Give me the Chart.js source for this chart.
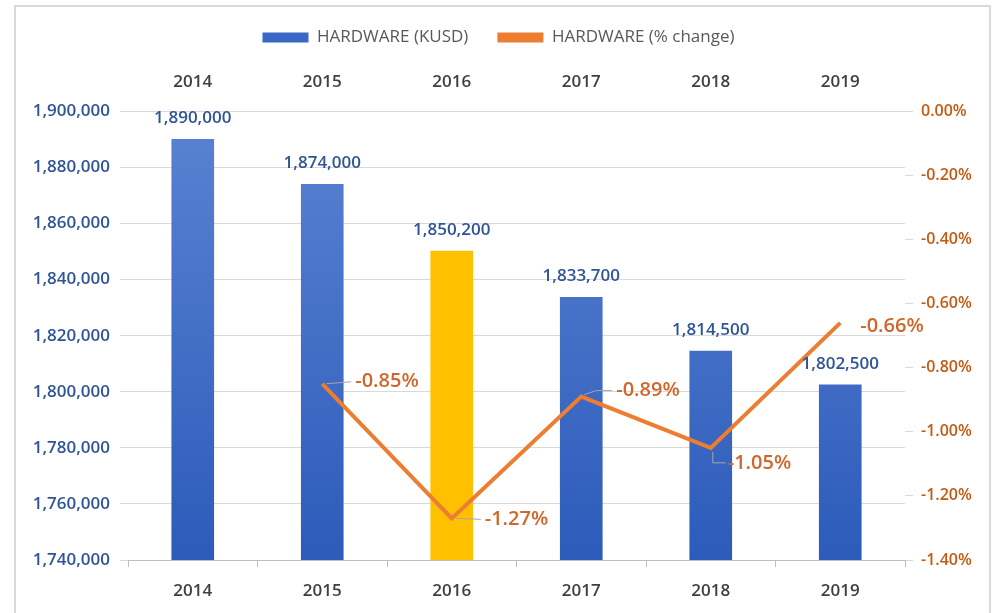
<!DOCTYPE html>
<html>
<head>
<meta charset="utf-8">
<script src="https://cdn.jsdelivr.net/npm/chart.js@4"></script>
<style>
    html, body { margin: 0; padding: 0; background: #ffffff; }
    #wrap { width: 999px; height: 613px; position: relative; }
</style>
</head>
<body>
<div id="wrap"><canvas id="hardwareChart" width="999" height="613"></canvas></div>
<script>
const years = ['2014', '2015', '2016', '2017', '2018', '2019'];
const hardwareKusd = [1890000, 1874000, 1850200, 1833700, 1814500, 1802500];
const hardwareChange = [null, -0.85, -1.27, -0.89, -1.05, -0.66];
const highlightYear = '2016';

const leftTicks = [1740000, 1900000, 20000];
const rightTicks = [-1.4, 0, 0.2];

// where each % label sits relative to its point: [dx, dy, leader?]
const pctLabelOffsets = {
    '2015': [33, -2, 'h'],
    '2016': [33, 1, 'h'],
    '2017': [35, -6, 'up'],
    '2018': [17, 15, 'down'],
    '2019': [20, 3, null]
};

const blue = '#2f5597';
const orange = '#c55a11';

function barFill(context) {
    const chart = context.chart;
    const area = chart.chartArea;
    if (years[context.dataIndex] === highlightYear) return '#ffc000';
    if (!area) return '#4472c4';
    const g = chart.ctx.createLinearGradient(0, area.top, 0, area.bottom);
    g.addColorStop(0, '#5b83d3');
    g.addColorStop(1, '#2c5bba');
    return g;
}

const labelPlugin = {
    id: 'labelPlugin',
    beforeDraw(chart) {
        const ctx = chart.ctx;
        ctx.save();
        ctx.strokeStyle = '#d9d9d9';
        ctx.lineWidth = 2;
        ctx.strokeRect(15, 6, 975, 620);
        ctx.restore();
    },
    afterDatasetsDraw(chart) {
        const ctx = chart.ctx;
        ctx.save();
        // bar values
        const barMeta = chart.getDatasetMeta(0);
        ctx.font = '600 17px "Open Sans"';
        ctx.fillStyle = blue;
        ctx.textAlign = 'center';
        ctx.textBaseline = 'middle';
        barMeta.data.forEach((bar, i) => {
            ctx.fillText(hardwareKusd[i].toLocaleString('en-US'), bar.x, bar.y - 21);
        });

        // % change labels
        const lineMeta = chart.getDatasetMeta(1);
        ctx.font = '600 20px "Open Sans"';
        ctx.textAlign = 'left';
        lineMeta.data.forEach((pt, i) => {
            const v = hardwareChange[i];
            if (v === null) return;
            const off = pctLabelOffsets[years[i]];
            const lx = pt.x + off[0];
            const ly = pt.y + off[1];
            ctx.strokeStyle = '#a6a6a6';
            ctx.lineWidth = 1;
            if (off[2] === 'h') {
                ctx.beginPath();
                ctx.moveTo(pt.x + 4, pt.y);
                ctx.lineTo(lx - 4, ly);
                ctx.stroke();
            } else if (off[2] === 'up') {
                ctx.beginPath();
                ctx.moveTo(pt.x + 3, pt.y - 2);
                ctx.lineTo(pt.x + 15, ly);
                ctx.lineTo(lx - 4, ly);
                ctx.stroke();
            } else if (off[2] === 'down') {
                ctx.beginPath();
                ctx.moveTo(pt.x + 2, pt.y + 4);
                ctx.lineTo(pt.x + 2, ly);
                ctx.lineTo(lx - 2, ly);
                ctx.stroke();
            }
            ctx.fillStyle = '#d0662a';
            ctx.fillText(v.toFixed(2) + '%', lx, ly);
        });
        ctx.restore();
    }
};

const ctx = document.getElementById('hardwareChart').getContext('2d');
new Chart(ctx, {
    type: 'bar',
    data: {
        labels: years,
        datasets: [{
            label: 'HARDWARE (KUSD)',
            data: hardwareKusd,
            backgroundColor: barFill,
            yAxisID: 'y',
            xAxisID: 'x',
            barThickness: 42,
            order: 2
        }, {
            type: 'line',
            label: 'HARDWARE (% change)',
            data: hardwareChange,
            borderColor: '#ed7d31',
            backgroundColor: '#ed7d31',
            borderWidth: 4,
            pointRadius: 0,
            tension: 0,
            yAxisID: 'y1',
            xAxisID: 'x',
            order: 1
        }]
    },
    options: {
        responsive: false,
        animation: false,
        layout: { padding: { left: 20, right: 22, top: 0, bottom: 0 } },
        plugins: {
            tooltip: { enabled: false },
            legend: {
                display: true,
                labels: {
                    color: '#595959',
                    font: { family: '"Open Sans"', size: 17 },
                    boxWidth: 46,
                    boxHeight: 10,
                    padding: 29,
                    generateLabels(chart) {
                        return chart.data.datasets.map((ds, i) => ({
                            text: ds.label,
                            fillStyle: i === 0 ? '#3a68c4' : '#ed7d31',
                            strokeStyle: i === 0 ? '#3a68c4' : '#ed7d31',
                            lineWidth: 0,
                            datasetIndex: i,
                            fontColor: '#595959'
                        }));
                    }
                }
            }
        },
        scales: {
            x: {
                position: 'bottom',
                afterFit(scale) { scale.height = 53; },
                grid: { offset: true, drawOnChartArea: false, drawTicks: true, tickLength: 7, color: '#bfbfbf' },
                border: { color: '#bfbfbf' },
                ticks: { color: '#404040', font: { family: '"Open Sans"', size: 17, weight: '600' }, padding: 14 }
            },
            xTop: {
                position: 'top',
                labels: years,
                afterFit(scale) { scale.height += 5; },
                grid: { display: false },
                border: { display: false },
                ticks: { color: '#404040', font: { family: '"Open Sans"', size: 17, weight: '600' }, padding: 11 }
            },
            y: {
                position: 'left',
                min: leftTicks[0],
                max: leftTicks[1],
                afterFit(scale) { scale.width = 108; },
                ticks: {
                    stepSize: leftTicks[2],
                    color: blue,
                    font: { family: '"Open Sans"', size: 17, weight: '600' },
                    padding: 10,
                    callback: v => v.toLocaleString('en-US')
                },
                grid: { color: '#d9d9d9', tickLength: 8 },
                border: { display: false }
            },
            y1: {
                position: 'right',
                min: rightTicks[0],
                max: rightTicks[1],
                afterFit(scale) { scale.width = 72; },
                ticks: {
                    stepSize: rightTicks[2],
                    color: orange,
                    font: { family: '"Open Sans"', size: 16, weight: '600' },
                    padding: 8,
                    callback: v => v.toFixed(2) + '%'
                },
                grid: { drawOnChartArea: false, color: '#d9d9d9', tickLength: 8 },
                border: { display: false }
            }
        }
    },
    plugins: [labelPlugin]
});
</script>
</body>
</html>
